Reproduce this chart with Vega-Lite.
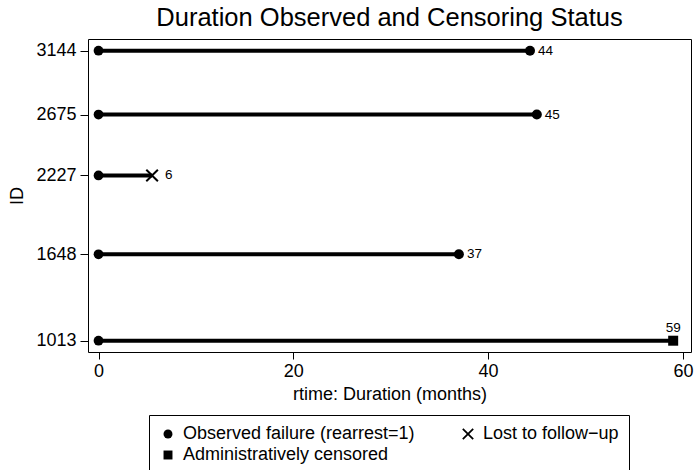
{
  "$schema": "https://vega.github.io/schema/vega-lite/v6.json",
  "width": 603,
  "height": 313,
  "autosize": {"type": "none"},
  "padding": {"left": 88, "top": 39, "right": 5, "bottom": 118},
  "background": "white",
  "title": {
    "text": "Duration Observed and Censoring Status",
    "fontSize": 25.5,
    "font": "Liberation Sans",
    "fontWeight": "normal",
    "color": "black",
    "anchor": "middle",
    "frame": "group",
    "baseline": "alphabetic",
    "offset": 11,
    "dy": 23
  },
  "config": {
    "font": "Liberation Sans",
    "view": {"stroke": "black", "strokeWidth": 1},
    "axis": {
      "grid": false,
      "domain": false,
      "tickColor": "black",
      "tickWidth": 1,
      "labelColor": "black",
      "titleColor": "black",
      "labelFontSize": 18,
      "titleFontSize": 18,
      "titleFontWeight": "normal",
      "labelFont": "Liberation Sans",
      "titleFont": "Liberation Sans"
    }
  },
  "data": {
    "values": [
      {"id": 3144, "start": 0, "rtime": 44.3, "status": "Observed failure (rearrest=1)"},
      {"id": 2675, "start": 0, "rtime": 45, "status": "Observed failure (rearrest=1)"},
      {"id": 2227, "start": 0, "rtime": 5.5, "status": "Lost to follow−up"},
      {"id": 1648, "start": 0, "rtime": 37, "status": "Observed failure (rearrest=1)"},
      {"id": 1013, "start": 0, "rtime": 59, "status": "Administratively censored"}
    ]
  },
  "layer": [
    {
      "mark": {"type": "rule", "strokeWidth": 4, "color": "black"},
      "encoding": {
        "y": {
          "field": "id",
          "type": "quantitative",
          "scale": {"domain": [930, 3230], "nice": false, "zero": false},
          "axis": {
            "values": [1013, 1648, 2227, 2675, 3144],
            "format": "d",
            "tickSize": 8,
            "labelPadding": 4,
            "title": "ID",
            "titlePadding": 9
          }
        },
        "x": {
          "field": "start",
          "type": "quantitative",
          "scale": {"domain": [-1.08, 60.83], "nice": false, "zero": false},
          "axis": {
            "values": [0, 20, 40, 60],
            "tickSize": 7,
            "labelPadding": 3,
            "title": "rtime: Duration (months)",
            "titlePadding": 5
          }
        },
        "x2": {"field": "rtime"}
      }
    },
    {
      "mark": {"type": "point", "shape": "circle", "filled": true, "size": 95, "color": "black", "opacity": 1},
      "encoding": {
        "x": {"field": "start", "type": "quantitative"},
        "y": {"field": "id", "type": "quantitative"}
      }
    },
    {
      "mark": {"type": "point", "filled": true, "color": "black", "opacity": 1, "size": 100},
      "encoding": {
        "x": {"field": "rtime", "type": "quantitative"},
        "y": {"field": "id", "type": "quantitative"},
        "shape": {
          "field": "status",
          "type": "nominal",
          "scale": {
            "domain": ["Observed failure (rearrest=1)", "Lost to follow−up", "Administratively censored"],
            "range": ["circle", "M0,-0.28L1.02,-1.3L1.3,-1.02L0.28,0L1.3,1.02L1.02,1.3L0,0.28L-1.02,1.3L-1.3,1.02L-0.28,0L-1.3,-1.02L-1.02,-1.3Z", "square"]
          },
          "legend": {
            "orient": "none",
            "legendX": 61,
            "legendY": 376,
            "direction": "horizontal",
            "columns": 2,
            "title": null,
            "labelFontSize": 18,
            "labelColor": "black",
            "labelFont": "Liberation Sans",
            "labelLimit": 400,
            "symbolSize": 80,
            "symbolFillColor": "black",
            "symbolStrokeColor": "black",
            "symbolStrokeWidth": 0,
            "strokeColor": "black",
            "padding": 10,
            "columnPadding": 44,
            "rowPadding": 3,
            "labelOffset": 6
          }
        }
      }
    },
    {
      "transform": [{"filter": "datum.status === 'Observed failure (rearrest=1)'"}],
      "mark": {"type": "text", "align": "left", "baseline": "middle", "dx": 8, "fontSize": 13.5, "color": "black", "font": "Liberation Sans"},
      "encoding": {
        "x": {"field": "rtime", "type": "quantitative"},
        "y": {"field": "id", "type": "quantitative"},
        "text": {"field": "rtime", "type": "quantitative", "format": ".0f"}
      }
    },
    {
      "transform": [{"filter": "datum.status === 'Lost to follow−up'"}],
      "mark": {"type": "text", "align": "left", "baseline": "middle", "dx": 13, "fontSize": 13.5, "color": "black", "font": "Liberation Sans"},
      "encoding": {
        "x": {"field": "rtime", "type": "quantitative"},
        "y": {"field": "id", "type": "quantitative"},
        "text": {"field": "rtime", "type": "quantitative", "format": ".0f"}
      }
    },
    {
      "transform": [{"filter": "datum.status === 'Administratively censored'"}],
      "mark": {"type": "text", "align": "center", "baseline": "alphabetic", "dy": -9, "fontSize": 13.5, "color": "black", "font": "Liberation Sans"},
      "encoding": {
        "x": {"field": "rtime", "type": "quantitative"},
        "y": {"field": "id", "type": "quantitative"},
        "text": {"field": "rtime", "type": "quantitative", "format": ".0f"}
      }
    }
  ]
}
